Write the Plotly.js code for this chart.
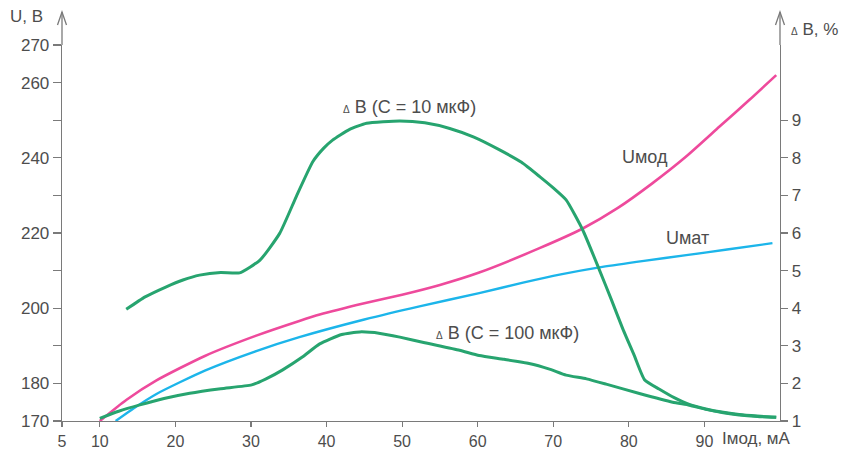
<!DOCTYPE html>
<html>
<head>
<meta charset="utf-8">
<script src="https://cdn.plot.ly/plotly-3.0.1.min.js"></script>
<style>html,body{margin:0;padding:0;background:#fff;}#chart{width:842px;height:449px;}</style>
</head>
<body>
<div id="chart"></div>
<script>
// Iмод, мА
const umodX = [10, 13.5, 17.5, 23.9, 30.7, 36.4, 39.1, 45, 50, 55, 60.2, 68.1, 73.9, 78.5, 83.1, 87.5, 92, 96, 99.5];
const umodY = [170, 175.6, 180.8, 187.3, 192.7, 196.6, 198.3, 201.3, 203.6, 206.2, 209.5, 215.9, 221.2, 226.6, 233.2, 240.2, 248.3, 255.5, 262];

const umatX = [12.1, 14.5, 17.5, 23.9, 30.7, 36.4, 45, 52.3, 60.2, 66, 71, 76.5, 82, 87.6, 93, 99];
const umatY = [170, 173.4, 177.2, 183.4, 188.6, 192.3, 197.0, 200.5, 204.0, 206.8, 209.0, 211.0, 212.6, 214.1, 215.6, 217.3];

// ΔB, %
const c10X = [13.5, 16, 18.8, 21, 23.2, 26, 28.5, 31.2, 33.8, 36.0, 38.2, 39.6, 40.8, 43, 45.3, 49.7, 53, 56.3, 59.5, 62.9, 65.8, 68.2, 70, 71.7, 73.9, 76.1, 77.7, 79.2, 80.7, 82.1, 84, 86, 88, 90.2, 92.5, 94.6, 97, 99.5];
const c10Y = [3.97, 4.3, 4.57, 4.75, 4.88, 4.95, 4.94, 5.28, 5.99, 6.97, 7.9, 8.25, 8.47, 8.75, 8.92, 8.98, 8.93, 8.78, 8.55, 8.21, 7.88, 7.5, 7.2, 6.88, 6.08, 5.02, 4.22, 3.45, 2.75, 2.09, 1.85, 1.62, 1.44, 1.32, 1.23, 1.17, 1.13, 1.1];

const c100X = [10, 12.5, 15.3, 18.5, 21.9, 26, 30.1, 32, 34.2, 36.8, 39.1, 42, 44.4, 47.1, 49.7, 53, 57.6, 60.2, 63.5, 66.8, 69.5, 71.7, 74.4, 77, 81.4, 85.8, 88, 90.2, 92.5, 94.6, 97, 99.5];
const c100Y = [1.07, 1.26, 1.43, 1.6, 1.74, 1.86, 1.96, 2.12, 2.36, 2.7, 3.05, 3.3, 3.37, 3.33, 3.23, 3.08, 2.88, 2.74, 2.64, 2.53, 2.38, 2.22, 2.12, 1.98, 1.73, 1.5, 1.42, 1.31, 1.22, 1.16, 1.12, 1.1];

const xTicks = [5, 10, 20, 30, 40, 50, 60, 70, 80, 90];
const yTicks = [170, 180, 190, 200, 210, 220, 230, 240, 250, 260, 270];
const yTickText = ['170', '180', '', '200', '', '220', '', '240', '', '260', '270'];
const y2Ticks = [1, 2, 3, 4, 5, 6, 7, 8, 9];

const pink = '#ee4a9c', blue = '#1cb5ea', green = '#27a46f';
const axisCol = '#7a7a7a', txtCol = '#4d4d4d';
const FONT = 'Liberation Sans, Arial, sans-serif';

const traces = [
  {x: umodX, y: umodY, mode: 'lines', line: {color: pink, width: 2.6, shape: 'spline', smoothing: 0.6}, yaxis: 'y'},
  {x: umatX, y: umatY, mode: 'lines', line: {color: blue, width: 2.4, shape: 'spline', smoothing: 0.6}, yaxis: 'y'},
  {x: c10X, y: c10Y, mode: 'lines', line: {color: green, width: 3, shape: 'spline', smoothing: 0.5}, yaxis: 'y2'},
  {x: c100X, y: c100Y, mode: 'lines', line: {color: green, width: 3, shape: 'spline', smoothing: 0.5}, yaxis: 'y2'}
];

const L = 62, R = 780, T = 45, B = 421;
const pw = R - L, ph = B - T;
const arrowTop = (B - 12) / ph;          // paper y of arrow tip
const ax = 4.5 / pw, ay = 13 / ph;

function arrow(px) {
  return [
    {type: 'line', xref: 'paper', yref: 'paper', x0: px, x1: px, y0: 1, y1: arrowTop, line: {color: axisCol, width: 1.3}},
    {type: 'path', xref: 'paper', yref: 'paper',
     path: `M ${px - ax} ${arrowTop - ay} L ${px} ${arrowTop} L ${px + ax} ${arrowTop - ay}`,
     line: {color: axisCol, width: 1.3}}
  ];
}

const small = s => `<span style="font-size:10px">${s}</span>`;
const TF = 17, AF = 18;

const layout = {
  width: 842, height: 449,
  margin: {l: L, r: 842 - R, t: T, b: 449 - B},
  paper_bgcolor: '#ffffff', plot_bgcolor: '#ffffff',
  showlegend: false,
  font: {family: FONT, size: TF, color: txtCol},
  xaxis: {
    range: [5, 100], tickvals: xTicks, ticktext: xTicks.map(String),
    showgrid: false, zeroline: false, showline: true, linecolor: axisCol, linewidth: 1.3,
    ticks: 'outside', ticklen: 5, tickcolor: axisCol, tickwidth: 1.2,
    tickfont: {family: FONT, size: 16, color: txtCol}
  },
  yaxis: {
    range: [170, 270], tickvals: yTicks, ticktext: yTickText,
    showgrid: false, zeroline: false, showline: true, linecolor: axisCol, linewidth: 1.3,
    ticks: 'outside', ticklen: 8, tickcolor: axisCol, tickwidth: 1.2,
    tickfont: {family: FONT, size: TF, color: txtCol}
  },
  yaxis2: {
    range: [1, 11], tickvals: y2Ticks, ticktext: y2Ticks.map(String),
    overlaying: 'y', side: 'right',
    showgrid: false, zeroline: false, showline: true, linecolor: axisCol, linewidth: 1.3,
    ticks: 'outside', ticklen: 7, tickcolor: axisCol, tickwidth: 1.2,
    tickfont: {family: FONT, size: TF, color: txtCol}
  },
  shapes: [...arrow(0), ...arrow(1)],
  annotations: [
    {xref: 'paper', yref: 'paper', x: (8 - L) / pw, y: (B - 17) / ph, xanchor: 'left', yanchor: 'middle',
     text: 'U, B', showarrow: false, font: {size: TF, color: txtCol}},
    {xref: 'paper', yref: 'paper', x: (789 - L) / pw, y: (B - 30) / ph, xanchor: 'left', yanchor: 'middle',
     text: small('Δ') + ' B, %', showarrow: false, font: {size: TF, color: txtCol}},
    {xref: 'paper', yref: 'paper', x: (720 - L) / pw, y: (B - 438) / ph, xanchor: 'left', yanchor: 'middle',
     text: 'Iмод, мА', showarrow: false, font: {size: 17, color: txtCol}},
    {xref: 'x', yref: 'y', x: 51.0, y: 253.5, xanchor: 'center', yanchor: 'middle',
     text: small('Δ') + ' B (C = 10 мкФ)', showarrow: false, font: {size: AF, color: txtCol}},
    {xref: 'x', yref: 'y', x: 64.0, y: 193.4, xanchor: 'center', yanchor: 'middle',
     text: small('Δ') + ' B (C = 100 мкФ)', showarrow: false, font: {size: AF, color: txtCol}},
    {xref: 'x', yref: 'y', x: 82.1, y: 240.2, xanchor: 'center', yanchor: 'middle',
     text: 'Uмод', showarrow: false, font: {size: AF, color: txtCol}},
    {xref: 'x', yref: 'y', x: 87.7, y: 218.7, xanchor: 'center', yanchor: 'middle',
     text: 'Uмат', showarrow: false, font: {size: AF, color: txtCol}}
  ]
};

Plotly.newPlot('chart', traces, layout, {displayModeBar: false, staticPlot: true});
</script>
</body>
</html>
